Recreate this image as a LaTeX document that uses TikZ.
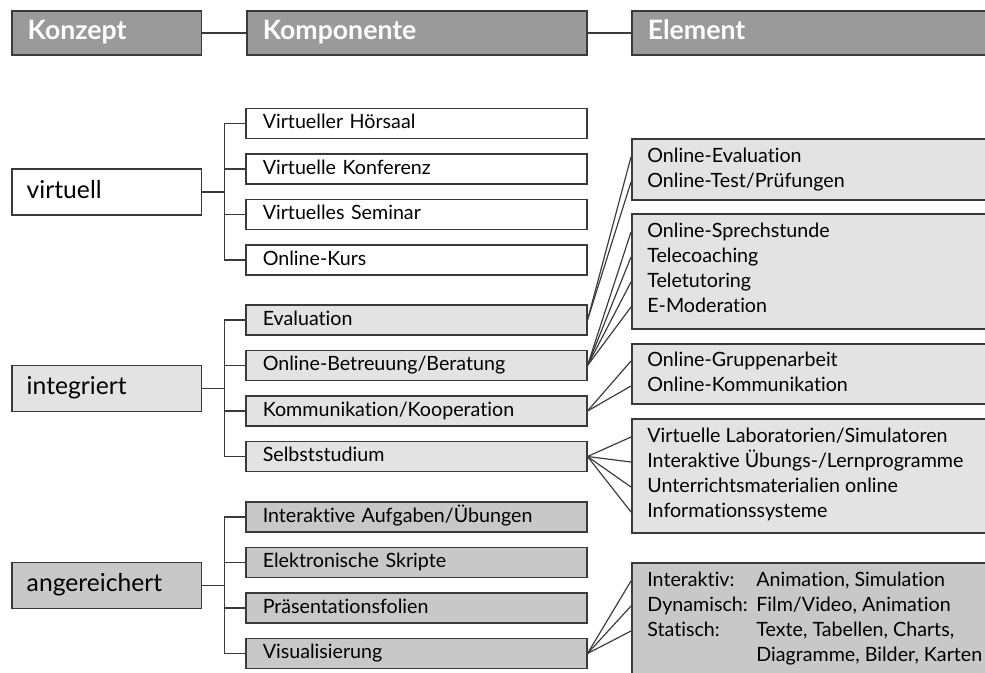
\documentclass[tikz,border=0pt]{standalone}
\usepackage{fontspec}
\setmainfont{Lato}[Ligatures={NoCommon}]
\usepackage{tikz}
\definecolor{headgray}{HTML}{9A9A9A}
\definecolor{paleg}{HTML}{E3E3E3}
\definecolor{midg}{HTML}{C8C8C8}
\definecolor{rim}{HTML}{3A3A3A}
\tikzset{
    head/.style = {
      draw=rim,
      fill=headgray,
      text=white,
      font=\bfseries\fontsize{16}{18}\selectfont,
      anchor=west,
      align=left,
      minimum height=26.4pt,
      inner xsep=9.6pt,
      text height=11.5pt,
      text depth=3.3pt,
      line width=0.9pt
    },
    konz/.style = {
      draw=rim,
      anchor=west,
      align=left,
      text width=96pt,
      inner xsep=9pt,
      minimum height=27.6pt,
      text height=10.7pt,
      text depth=3.1pt,
      font=\fontsize{14.8}{17}\selectfont,
      line width=0.9pt
    },
    komp/.style = {
      draw=rim,
      anchor=west,
      align=left,
      text width=184.2pt,
      inner xsep=10.2pt,
      minimum height=18pt,
      text height=8.5pt,
      text depth=2.5pt,
      font=\fontsize{11.8}{14}\selectfont,
      line width=0.9pt
    },
    elbox/.style = {
      draw=rim,
      anchor=north west,
      minimum width=216pt,
      line width=0.9pt
    },
    eltext/.style = {
      anchor=west,
      inner sep=0pt,
      text height=8.5pt,
      text depth=2.5pt,
      font=\fontsize{11.8}{14}\selectfont
    },
    link/.style = {
      draw=rim,
      line width=0.7pt
    }
}
\begin{document}
\begin{tikzpicture}[x=0.6pt,y=-0.6pt]
      \fill[white] (0,0) rectangle (985,672);
      \useasboundingbox (0,0) rectangle (985,672);

      % header
      \node[head, text width=94.8pt]  (hk) at (11,33)  {Konzept};
      \node[head, text width=184.8pt] (hc) at (246,33) {Komponente};
      \node[head, text width=196.8pt] (he) at (631,33) {Element};
      \draw[link] (hk.east) -- (hc.west);
      \draw[link] (hc.east) -- (he.west);

      % Konzepte
      \node[konz, fill=white] (virt) at (11,192)   {virtuell};
      \node[konz, fill=paleg] (intg) at (11,388.5) {integriert};
      \node[konz, fill=midg]  (anr)  at (11,585.5) {angereichert};

      % Komponenten
      \node[komp, fill=white] (vh) at (245,123.5) {Virtueller Hörsaal};
      \node[komp, fill=white] (vk) at (245,169)   {Virtuelle Konferenz};
      \node[komp, fill=white] (vs) at (245,214.5) {Virtuelles Seminar};
      \node[komp, fill=white] (vo) at (245,260)   {Online-Kurs};
      \node[komp, fill=paleg] (ev) at (245,320)   {Evaluation};
      \node[komp, fill=paleg] (ob) at (245,365.5) {Online-Betreuung/Beratung};
      \node[komp, fill=paleg] (kk) at (245,411)   {Kommunikation/Kooperation};
      \node[komp, fill=paleg] (ss) at (245,456.5) {Selbststudium};
      \node[komp, fill=midg]  (ia) at (245,517)   {Interaktive Aufgaben/Übungen};
      \node[komp, fill=midg]  (es) at (245,562.5) {Elektronische Skripte};
      \node[komp, fill=midg]  (pf) at (245,608)   {Präsentationsfolien};
      \node[komp, fill=midg]  (vi) at (245,653.5) {Visualisierung};

      \draw[link] (virt.east) -- ++(22,0) |- (vh.west);
      \draw[link] (virt.east) -- ++(22,0) |- (vk.west);
      \draw[link] (virt.east) -- ++(22,0) |- (vs.west);
      \draw[link] (virt.east) -- ++(22,0) |- (vo.west);
      \draw[link] (intg.east) -- ++(22,0) |- (ev.west);
      \draw[link] (intg.east) -- ++(22,0) |- (ob.west);
      \draw[link] (intg.east) -- ++(22,0) |- (kk.west);
      \draw[link] (intg.east) -- ++(22,0) |- (ss.west);
      \draw[link] (anr.east) -- ++(22,0) |- (ia.west);
      \draw[link] (anr.east) -- ++(22,0) |- (es.west);
      \draw[link] (anr.east) -- ++(22,0) |- (pf.west);
      \draw[link] (anr.east) -- ++(22,0) |- (vi.west);

      % Elemente
      \node[elbox, fill=paleg, minimum height=36.6pt] (el1) at (631,138) {};
      \node[elbox, fill=paleg, minimum height=69pt]   (el2) at (631,213) {};
      \node[elbox, fill=paleg, minimum height=36pt]   (el3) at (631,343) {};
      \node[elbox, fill=paleg, minimum height=68.4pt] (el4) at (631,418) {};
      \node[elbox, fill=midg,  minimum height=72pt]   (el5) at (631,562) {};

      \node[eltext] (e1a) at (647,157) {Online-Evaluation};
      \node[eltext] (e1b) at (647,182) {Online-Test/Prüfungen};
      \node[eltext] (e2a) at (647,232) {Online-Sprechstunde};
      \node[eltext] (e2b) at (647,257) {Telecoaching};
      \node[eltext] (e2c) at (647,282) {Teletutoring};
      \node[eltext] (e2d) at (647,307) {E-Moderation};
      \node[eltext] (e3a) at (647,361) {Online-Gruppenarbeit};
      \node[eltext] (e3b) at (647,386) {Online-Kommunikation};
      \node[eltext] (e4a) at (647,437) {Virtuelle Laboratorien/Simulatoren};
      \node[eltext] (e4b) at (647,462) {Interaktive Übungs-/Lernprogramme};
      \node[eltext] (e4c) at (647,487) {Unterrichtsmaterialien online};
      \node[eltext] (e4d) at (647,512) {Informationssysteme};
      \node[eltext] (e5a) at (647,581) {Interaktiv:};
      \node[eltext] (e5b) at (647,606) {Dynamisch:};
      \node[eltext] (e5c) at (647,631) {Statisch:};
      \node[eltext] (v5a) at (756,581) {Animation, Simulation};
      \node[eltext] (v5b) at (756,606) {Film/Video, Animation};
      \node[eltext] (v5c) at (756,631) {Texte, Tabellen, Charts,};
      \node[eltext] (v5d) at (756,656) {Diagramme, Bilder, Karten};

      \draw[link] (ev.east) -- (e1a -| el1.west);
      \draw[link] (ev.east) -- (e1b -| el1.west);
      \draw[link] (ob.east) -- (e2a -| el2.west);
      \draw[link] (ob.east) -- (e2b -| el2.west);
      \draw[link] (ob.east) -- (e2c -| el2.west);
      \draw[link] (ob.east) -- (e2d -| el2.west);
      \draw[link] (kk.east) -- (e3a -| el3.west);
      \draw[link] (kk.east) -- (e3b -| el3.west);
      \draw[link] (ss.east) -- (e4a -| el4.west);
      \draw[link] (ss.east) -- (e4b -| el4.west);
      \draw[link] (ss.east) -- (e4c -| el4.west);
      \draw[link] (ss.east) -- (e4d -| el4.west);
      \draw[link] (vi.east) -- (e5a -| el5.west);
      \draw[link] (vi.east) -- (e5b -| el5.west);
      \draw[link] (vi.east) -- (e5c -| el5.west);
\end{tikzpicture}
\end{document}
